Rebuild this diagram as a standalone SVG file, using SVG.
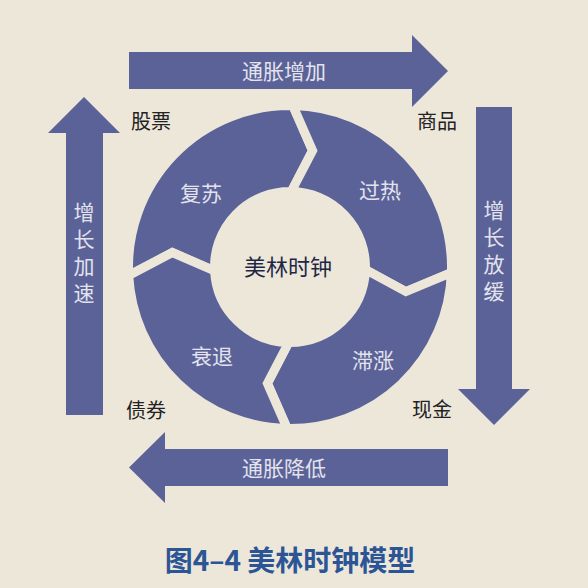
<svg xmlns="http://www.w3.org/2000/svg" width="588" height="588" viewBox="0 0 588 588">
<style>
.bg{fill:#ede7da}
.arrow{fill:#5b6297}
.seg{fill:#5b6297;stroke:#ede7da;stroke-width:9;stroke-linejoin:miter}
.lt{font-family:"Noto Sans CJK SC","Noto Sans",sans-serif;fill:#e3e3ee;font-size:21px;text-anchor:middle}
.vt{writing-mode:tb;letter-spacing:6px}
.dk{font-family:"Noto Sans CJK SC","Noto Sans",sans-serif;fill:#222;font-size:20px;text-anchor:middle}
.ctr{font-family:"Noto Sans CJK SC","Noto Sans",sans-serif;fill:#1f2747;font-size:22px;text-anchor:middle}
.title{font-family:"Noto Sans CJK SC","Noto Sans",sans-serif;fill:#2c5596;font-size:28px;font-weight:bold;text-anchor:middle}
</style>
<rect class="bg" x="0" y="0" width="588" height="588"/>
<g id="connectors">
<g id="arrow-top"><polygon class="arrow" points="129,52 412,52 412,35 448,71 412,107 412,89 129,89"/><text class="lt" x="284" y="79">通胀增加</text></g>
<g id="arrow-right"><polygon class="arrow" points="476,107 512,107 512,389 530,389 494,425 458,389 476,389"/><text class="lt vt" x="494" y="254">增长放缓</text></g>
<g id="arrow-bottom"><polygon class="arrow" points="448,449 448,486 165,486 165,503 129,467.5 165,432 165,449"/><text class="lt" x="284" y="476">通胀降低</text></g>
<g id="arrow-left"><polygon class="arrow" points="66,415 103,415 103,133 120,133 84,97 48,133 66,133"/><text class="lt vt" x="84" y="256">增长加速</text></g>
</g>
<g id="seg-fusu"><path class="seg" d="M128.72,275.45 A161.5,161.5 0 0 1 292.82,105.52 L312.61,150.68 L291.32,191.51 A75.5,75.5 0 0 0 214.60,270.95 L172.38,252.56 Z"/><text class="lt" x="201" y="201">复苏</text></g>
<g id="seg-guore"><path class="seg" d="M292.82,105.52 A161.5,161.5 0 0 1 451.40,272.64 L405.91,291.64 L365.45,269.63 A75.5,75.5 0 0 0 291.32,191.51 L312.61,150.68 Z"/><text class="lt" x="380" y="198">过热</text></g>
<g id="seg-zhizhang"><path class="seg" d="M451.40,272.64 A161.5,161.5 0 0 1 287.18,428.48 L267.39,383.32 L288.68,342.49 A75.5,75.5 0 0 0 365.45,269.63 L405.91,291.64 Z"/><text class="lt" x="373" y="368">滞涨</text></g>
<g id="seg-shuaitui"><path class="seg" d="M287.18,428.48 A161.5,161.5 0 0 1 128.72,275.45 L172.38,252.56 L214.60,270.95 A75.5,75.5 0 0 0 288.68,342.49 L267.39,383.32 Z"/><text class="lt" x="212" y="364">衰退</text></g>
<g id="center"><text class="ctr" x="288" y="275">美林时钟</text></g>
<g id="label-gupiao"><text class="dk" x="151" y="129">股票</text></g>
<g id="label-shangpin"><text class="dk" x="437" y="129">商品</text></g>
<g id="label-zhaiquan"><text class="dk" x="146" y="418">债券</text></g>
<g id="label-xianjin"><text class="dk" x="432" y="417">现金</text></g>
<text class="title" x="290" y="571">图4–4 美林时钟模型</text>
</svg>
